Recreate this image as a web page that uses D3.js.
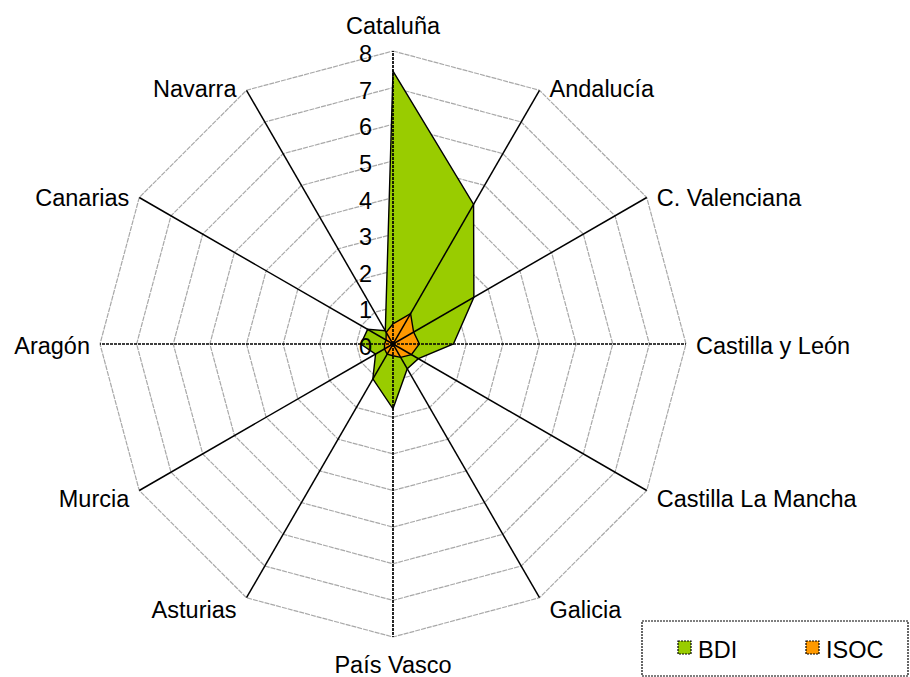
<!DOCTYPE html>
<html>
<head>
<meta charset="utf-8">
<script src="https://cdn.jsdelivr.net/npm/d3@7"></script>
<style>
  body { margin: 0; background: #fff; }
  svg { display: block; font-family: "Liberation Sans", Arial, sans-serif; }
</style>
</head>
<body>
<svg id="chart" width="910" height="677"></svg>
<script>
const categories = ['Cataluña', 'Andalucía', 'C. Valenciana', 'Castilla y León',
  'Castilla La Mancha', 'Galicia', 'País Vasco', 'Asturias', 'Murcia',
  'Aragón', 'Canarias', 'Navarra'];
const bdiValues = [7.45, 4.4, 2.55, 1.65, 0.8, 0.78, 1.77, 1.1, 0.55, 0.88, 0.8, 0.42];
const isocValues = [0.55, 0.96, 0.65, 0.72, 0.58, 0.42, 0.32, 0.32, 0.27, 0.23, 0.22, 0.37];
const tickValues = [0, 1, 2, 3, 4, 5, 6, 7, 8];
const seriesNames = ['BDI', 'ISOC'];
const seriesColors = ['#99cc00', '#ff9900'];

const svg = d3.select('#chart');
const cx = 393;
const cy = 344;
const fontSize = 23.5;

const r = d3.scaleLinear().domain([0, 8]).range([0, 293]);
const angle = d3.scaleLinear().domain([0, categories.length]).range([0, 2 * Math.PI]);

const pt = (i, v) => {
  const a = angle(i);
  return [cx + r(v) * Math.sin(a), cy - r(v) * Math.cos(a)];
};

const radial = d3.lineRadial()
  .angle((d, i) => angle(i))
  .radius(d => r(d))
  .curve(d3.curveLinearClosed);

const g = svg.append('g').attr('transform', `translate(${cx},${cy})`);

/* gridlines */
g.selectAll('.grid')
  .data(tickValues.slice(1))
  .join('path')
  .attr('class', 'grid')
  .attr('d', t => radial(categories.map(() => t)))
  .attr('fill', 'none')
  .attr('stroke', '#a8a8a8')
  .attr('stroke-width', 1.2)
  .attr('stroke-dasharray', '5 1');

/* series */
[bdiValues, isocValues].forEach((vals, s) => {
  g.append('path')
    .attr('d', radial(vals))
    .attr('fill', seriesColors[s])
    .attr('stroke', '#000')
    .attr('stroke-width', 1.4)
    .attr('stroke-linejoin', 'miter');
});

/* spokes */
categories.forEach((c, i) => {
  const [x2, y2] = pt(i, 8);
  const dotted = i % 3 === 0;
  svg.append('line')
    .attr('x1', cx)
    .attr('y1', cy)
    .attr('x2', x2)
    .attr('y2', y2)
    .attr('stroke', '#000')
    .attr('stroke-width', dotted ? 1.7 : 1.5)
    .attr('stroke-dasharray', dotted ? '3 1' : null);
});

/* value labels */
svg.selectAll('.tick')
  .data(tickValues)
  .join('text')
  .attr('class', 'tick')
  .attr('x', cx - 21)
  .attr('y', d => cy - r(d) + 11)
  .attr('text-anchor', 'end')
  .attr('font-size', fontSize)
  .text(d => d);

/* category labels */
categories.forEach((c, i) => {
  const a = angle(i);
  const s = Math.sin(a);
  const co = Math.cos(a);
  const [ex, ey] = pt(i, 8);
  let x = ex;
  let y = ey;
  let anchor = 'middle';
  if (Math.abs(s) < 0.01) {
    y = co > 0 ? ey - 25 : ey + 28;
  } else {
    anchor = s > 0 ? 'start' : 'end';
    x = ex + (s > 0 ? 10 : -10);
    y = ey + (co < 0 ? -co * 12 : -co * 4) + 2;
  }
  svg.append('text')
    .attr('x', x)
    .attr('y', y)
    .attr('text-anchor', anchor)
    .attr('dominant-baseline', 'central')
    .attr('font-size', fontSize)
    .text(c);
});

/* legend */
const legend = svg.append('g');
legend.append('rect')
  .attr('x', 642)
  .attr('y', 621)
  .attr('width', 266)
  .attr('height', 55)
  .attr('fill', '#fff')
  .attr('stroke', '#000')
  .attr('stroke-width', 1.2)
  .attr('stroke-dasharray', '2 1');

const legendX = [678, 806];
seriesNames.forEach((name, i) => {
  legend.append('rect')
    .attr('x', legendX[i])
    .attr('y', 641)
    .attr('width', 13)
    .attr('height', 13)
    .attr('fill', seriesColors[i])
    .attr('stroke', '#000')
    .attr('stroke-width', 1.2)
    .attr('stroke-dasharray', '2 1');
  legend.append('text')
    .attr('x', legendX[i] + 20)
    .attr('y', 658)
    .attr('font-size', fontSize)
    .text(name);
});
</script>
</body>
</html>
